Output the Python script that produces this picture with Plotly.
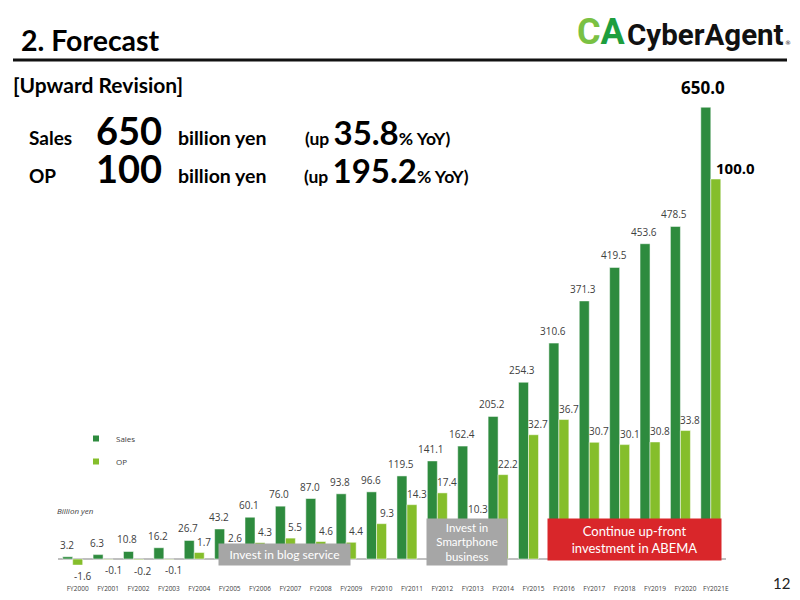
import plotly.graph_objects as go

categories = ["FY2000", "FY2001", "FY2002", "FY2003", "FY2004", "FY2005", "FY2006", "FY2007",
              "FY2008", "FY2009", "FY2010", "FY2011", "FY2012", "FY2013", "FY2014", "FY2015",
              "FY2016", "FY2017", "FY2018", "FY2019", "FY2020", "FY2021E"]
sales = [3.2, 6.3, 10.8, 16.2, 26.7, 43.2, 60.1, 76.0, 87.0, 93.8, 96.6, 119.5, 141.1, 162.4,
         205.2, 254.3, 310.6, 371.3, 419.5, 453.6, 478.5, 650.0]
op = [-1.6, -0.1, -0.2, -0.1, 1.7, 2.6, 4.3, 5.5, 4.6, 4.4, 9.3, 14.3, 17.4, 10.3, 22.2, 32.7,
      36.7, 30.7, 30.1, 30.8, 33.8, 100.0]

SALES_C = "#2E8B3E"
OP_C = "#85BE2B"
HEAD_FONT = "Lato"
LBL_FONT = "Open Sans"

W, H = 800, 600
def px(x):
    return x / W
def py(y):
    return 1 - y / H

fig = go.Figure()
fig.add_trace(go.Bar(x=categories, y=sales, name="Sales", marker=dict(color=SALES_C, line=dict(color="rgba(255,255,255,0.5)", width=1)),
                     offsetgroup="s", yaxis="y", showlegend=False, hoverinfo="x+y"))
fig.add_trace(go.Bar(x=categories, y=op, name="OP", marker=dict(color=OP_C, line=dict(color="rgba(255,255,255,0.5)", width=1)),
                     offsetgroup="o", yaxis="y2", showlegend=False, hoverinfo="x+y"))
# legend entries (small square markers)
fig.add_trace(go.Scatter(x=[None], y=[None], mode="markers", name="Sales", legendgroup="a",
                         marker=dict(symbol="square", size=6, color=SALES_C)))
fig.add_trace(go.Scatter(x=[None], y=[None], mode="markers", name="OP", legendgroup="b",
                         marker=dict(symbol="square", size=6, color=OP_C)))

ann = []
# data labels
for i, (c, v) in enumerate(zip(categories, sales)):
    last = i == len(categories) - 1
    ann.append(dict(x=c, y=v, xref="x", yref="y", text=(f"<b>{v:.1f}</b>" if last else f"{v:.1f}"),
                    showarrow=False, yanchor="middle", xanchor="center",
                    xshift=(-8 if last else -6), yshift=(20 if last else 12),
                    font=dict(family=LBL_FONT, size=(17 if last else 10), color=("#000000" if last else "#404040"))))
for i, (c, v) in enumerate(zip(categories, op)):
    last = i == len(categories) - 1
    ann.append(dict(x=c, y=v, xref="x", yref="y2", text=(f"<b>{v:.1f}</b>" if last else f"{v:.1f}"),
                    showarrow=False, yanchor="middle", xanchor="center",
                    xshift=(25 if last else 10), yshift=(11 if v >= 0 else -11),
                    font=dict(family=LBL_FONT, size=(15 if last else 10), color=("#000000" if last else "#404040"))))

# boxes (drawn after labels so they sit on top)
ann.append(dict(x=6.975, y=6.5, xref="x", yref="y", text="Invest in blog service", showarrow=False,
                width=131, height=21, bgcolor="#A6A6A6", borderpad=0,
                font=dict(family=HEAD_FONT, size=12, color="white")))
ann.append(dict(x=12.98, y=24.5, xref="x", yref="y", text="Invest in<br>Smartphone<br>business", showarrow=False,
                width=80, height=46, bgcolor="#A6A6A6", borderpad=0,
                font=dict(family=HEAD_FONT, size=11.5, color="white")))
ann.append(dict(x=18.49, y=28.1, xref="x", yref="y", text="Continue up-front<br>investment in ABEMA", showarrow=False,
                width=173, height=41, bgcolor="#D9262A", borderpad=0,
                font=dict(family=HEAD_FONT, size=13, color="white")))

# page texts
ann.append(dict(x=px(19), y=py(40), xref="paper", yref="paper", xanchor="left", yanchor="middle",
                text="<b>2. Forecast</b>", showarrow=False, font=dict(family=HEAD_FONT, size=28.5, color="black")))
ann.append(dict(x=px(11), y=py(84), xref="paper", yref="paper", xanchor="left", yanchor="middle",
                text="<b>[Upward Revision]</b>", showarrow=False, font=dict(family=HEAD_FONT, size=21, color="black")))
for yb, lab, num, pct, pctx in [(146, "Sales", "650", "35.8", 303), (184, "OP", "100", "195.2", 302)]:
    ann.append(dict(x=px(27), y=py(yb), xref="paper", yref="paper", xanchor="left", yanchor="bottom",
                    text=f"<b>{lab}</b>", showarrow=False, yshift=-5,
                    font=dict(family=HEAD_FONT, size=19, color="black")))
    ann.append(dict(x=px(94), y=py(yb), xref="paper", yref="paper", xanchor="left", yanchor="bottom",
                    text=f"<b>{num}</b>", showarrow=False, yshift=-9,
                    font=dict(family=HEAD_FONT, size=38, color="black")))
    ann.append(dict(x=px(176), y=py(yb), xref="paper", yref="paper", xanchor="left", yanchor="bottom",
                    text=f"<b>billion yen</b>", showarrow=False, yshift=-5,
                    font=dict(family=HEAD_FONT, size=19.5, color="black")))
    ann.append(dict(x=px(pctx), y=py(yb), xref="paper", yref="paper", xanchor="left", yanchor="bottom",
                    text=f"<b>(up <span style='font-size:33px'>{pct}</span>% YoY)</b>", showarrow=False, yshift=-8,
                    font=dict(family=HEAD_FONT, size=17.5, color="black")))
ann.append(dict(x=px(55), y=py(510), xref="paper", yref="paper", xanchor="left", yanchor="middle",
                text="<i>Billion yen</i>", showarrow=False, font=dict(family=LBL_FONT, size=8, color="#404040")))
ann.append(dict(x=px(792), y=py(583), xref="paper", yref="paper", xanchor="right", yanchor="middle",
                text="12", showarrow=False, font=dict(family=HEAD_FONT, size=15, color="#222222")))
# logo
ann.append(dict(x=px(575), y=py(32), xref="paper", yref="paper", xanchor="left", yanchor="middle",
                text="<b><span style='color:#7AC143'>C</span><span style='color:#1E9E3E'>A</span></b>", showarrow=False,
                font=dict(family="Roboto", size=36)))
ann.append(dict(x=px(625), y=py(35), xref="paper", yref="paper", xanchor="left", yanchor="middle",
                text="<b>CyberAgent</b>", showarrow=False, font=dict(family="Roboto", size=29.5, color="#111111")))
ann.append(dict(x=px(783), y=py(42), xref="paper", yref="paper", xanchor="left", yanchor="middle",
                text="®", showarrow=False, font=dict(family="DejaVu Sans", size=6, color="#111111")))

shapes = [dict(type="line", xref="paper", yref="paper", x0=px(13), x1=px(787), y0=py(60), y1=py(60),
               line=dict(color="#111111", width=3))]

fig.update_layout(
    width=W, height=H, margin=dict(l=0, r=0, t=0, b=0, autoexpand=False),
    paper_bgcolor="white", plot_bgcolor="white",
    barmode="group", bargap=0.342, bargroupgap=0,
    xaxis=dict(domain=[px(57.5), px(726)], type="category", categoryorder="array", categoryarray=categories,
               range=[-0.5, len(categories) - 0.5], autorange=False,
               showgrid=False, showline=False, ticks="", ticklabelshift=5, ticklabelstandoff=3,
               tickfont=dict(family=LBL_FONT, size=6.5, color="#404040"), fixedrange=True),
    yaxis=dict(domain=[py(580), py(100)], range=[-30.22, 660.4], autorange=False, visible=True, showgrid=False,
               showticklabels=False, zeroline=True, zerolinecolor="#BFBFBF", zerolinewidth=2, fixedrange=True),
    yaxis2=dict(domain=[py(580), py(100)], range=[-5.526, 120.79], autorange=False, overlaying="y", side="right",
                showgrid=False, showticklabels=False, zeroline=False, fixedrange=True),
    legend=dict(x=px(76), y=py(424), xanchor="left", yanchor="top", bgcolor="rgba(0,0,0,0)",
                font=dict(family=LBL_FONT, size=8, color="#404040"), tracegroupgap=4, itemwidth=30),
    annotations=ann, shapes=shapes,
)
fig.write_html("out.html")
